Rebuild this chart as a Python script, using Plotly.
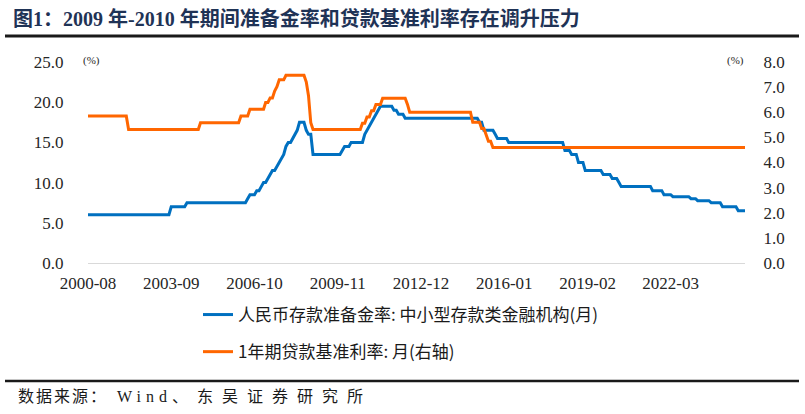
import pandas as pd
import plotly.graph_objects as go

# ---- data (change points of step series, month-end values) ----
rrr_change_months = ["2000-08", "2003-09", "2004-04", "2006-07", "2006-08", "2006-11", "2007-01", "2007-02",
                     "2007-04", "2007-05", "2007-06", "2007-08", "2007-09", "2007-10", "2007-11", "2007-12",
                     "2008-01", "2008-03", "2008-04", "2008-05", "2008-06", "2008-09", "2008-10", "2008-12",
                     "2010-01", "2010-02", "2010-05", "2010-11", "2010-12", "2011-01", "2011-02", "2011-03",
                     "2011-04", "2011-05", "2011-06", "2011-12", "2012-02", "2012-05", "2015-02", "2015-04",
                     "2015-09", "2015-10", "2016-03", "2018-04", "2018-07", "2018-10", "2019-01", "2019-09",
                     "2020-01", "2020-04", "2020-05", "2021-07", "2021-12", "2022-04", "2022-12", "2023-03",
                     "2023-09", "2024-02", "2024-09"]
rrr_values = [6, 7, 7.5, 8, 8.5, 9, 9.5, 10,
              10.5, 11, 11.5, 12, 12.5, 13, 13.5, 14.5,
              15, 15.5, 16, 16.5, 17.5, 16.5, 16, 13.5,
              14, 14.5, 15, 16, 16.5, 17, 17.5, 18,
              18.5, 19, 19.5, 19, 18.5, 18, 17.5, 16.5,
              16, 15.5, 15, 14, 13.5, 12.5, 11.5, 11,
              10.5, 10, 9.5, 9, 8.5, 8.25, 8, 7.75,
              7.5, 7, 6.5]

loan_change_months = ["2000-08", "2002-02", "2004-10", "2006-04", "2006-08", "2007-03", "2007-05", "2007-07",
                      "2007-08", "2007-09", "2007-12", "2008-09", "2008-10", "2008-11", "2008-12", "2010-10",
                      "2010-12", "2011-02", "2011-04", "2011-07", "2012-06", "2012-07", "2014-11", "2015-03",
                      "2015-05", "2015-06", "2015-08"]
loan_values = [5.85, 5.31, 5.58, 5.85, 6.12, 6.39, 6.57, 6.84,
               7.02, 7.29, 7.47, 7.20, 6.66, 5.58, 5.31, 5.56,
               5.81, 6.06, 6.31, 6.56, 6.31, 6.00, 5.60, 5.35,
               5.10, 4.85, 4.60]

start_month, end_month = "2000-08", "2024-12"
x_tick_months = ["2000-08", "2003-09", "2006-10", "2009-11", "2012-12", "2016-01", "2019-02", "2022-03"]

name_rrr = "人民币存款准备金率: 中小型存款类金融机构(月)"
name_loan = "1年期贷款基准利率: 月(右轴)"
title_text = "图1：2009 年-2010 年期间准备金率和贷款基准利率存在调升压力"
source_parts = ["数据来源：", "Wind", "、东吴证券研究所"]

# ---- build monthly series (step-hold of the change points) ----
months = pd.period_range(start_month, end_month, freq="M")
rrr = pd.Series(rrr_values, index=pd.PeriodIndex(rrr_change_months, freq="M")).reindex(months).ffill()
loan = pd.Series(loan_values, index=pd.PeriodIndex(loan_change_months, freq="M")).reindex(months).ffill()
x = months.to_timestamp()

BLUE = "#0070C0"
ORANGE = "#FF6600"
SERIF = "Liberation Serif, Noto Sans CJK SC"
CJK = "Noto Sans CJK SC, sans-serif"

fig = go.Figure()
fig.add_trace(go.Scatter(x=x, y=rrr.values, mode="lines", name=name_rrr, legendgroup="a",
                         line=dict(color=BLUE, width=3), yaxis="y"))
fig.add_trace(go.Scatter(x=x, y=loan.values, mode="lines", name=name_loan, legendgroup="b",
                         line=dict(color=ORANGE, width=3), yaxis="y2"))

W, H = 805, 414
L, R, T, B = 88, 60, 62, 151
pw, ph = W - L - R, H - T - B


def px(xp):
    return (xp - L) / pw


def py(yp):
    return (H - B - yp) / ph


tick_font = dict(family=SERIF, size=17, color="#262626")

fig.update_layout(
    width=W, height=H,
    margin=dict(l=L, r=R, t=T, b=B, pad=0),
    paper_bgcolor="white", plot_bgcolor="white",
    showlegend=True,
    legend=dict(x=px(198), y=py(297), xanchor="left", yanchor="top",
                font=dict(family=CJK, size=17, color="#1a1a1a"),
                tracegroupgap=12, bgcolor="rgba(0,0,0,0)"),
    xaxis=dict(type="date", range=[x[0], x[-1]],
               tickvals=pd.PeriodIndex(x_tick_months, freq="M").to_timestamp(),
               tickformat="%Y-%m", showgrid=False, zeroline=False,
               showline=True, linecolor="#d9d9d9", linewidth=1,
               ticks="outside", ticklen=5, tickcolor="rgba(0,0,0,0)",
               tickfont=tick_font),
    yaxis=dict(range=[0, 25], dtick=5, tickformat=".1f", showgrid=False, zeroline=False,
               showline=False, ticks="outside", ticklen=20, tickcolor="rgba(0,0,0,0)",
               tickfont=tick_font),
    yaxis2=dict(range=[0, 8], dtick=1, tickformat=".1f", overlaying="y", side="right",
                showgrid=False, zeroline=False, showline=False,
                ticks="outside", ticklen=14, tickcolor="rgba(0,0,0,0)",
                tickfont=tick_font),
)

fig.add_annotation(text="<b>" + title_text + "</b>", xref="paper", yref="paper", x=px(11), y=py(18),
                   xanchor="left", yanchor="middle", showarrow=False,
                   font=dict(family="Liberation Serif, Noto Sans CJK SC", size=20, color="#1f3356"))

source_html = ('<span style="letter-spacing:2px">' + source_parts[0] + '</span>'
               '<span style="letter-spacing:5px"> ' + source_parts[1] + '</span>'
               '<span style="letter-spacing:9px">' + source_parts[2] + '</span>')
fig.add_annotation(text=source_html, xref="paper", yref="paper", x=px(16), y=py(397),
                   xanchor="left", yanchor="middle", showarrow=False,
                   font=dict(family="Liberation Serif, Noto Sans CJK SC", size=16, color="#1a1a1a"))

fig.add_annotation(text="(%)", xref="paper", yref="paper", x=px(91), y=py(60),
                   xanchor="center", yanchor="middle", showarrow=False,
                   font=dict(family=SERIF, size=11, color="#262626"))
fig.add_annotation(text="(%)", xref="paper", yref="paper", x=px(735), y=py(60),
                   xanchor="center", yanchor="middle", showarrow=False,
                   font=dict(family=SERIF, size=11, color="#262626"))

# horizontal rules under title and above source
fig.add_shape(type="line", xref="paper", yref="paper", x0=px(5), x1=px(799), y0=py(36), y1=py(36),
              line=dict(color="#1a1a1a", width=3))
fig.add_shape(type="line", xref="paper", yref="paper", x0=px(5), x1=px(799), y0=py(381), y1=py(381),
              line=dict(color="#1a1a1a", width=2.5))

fig.write_html("out.html")
